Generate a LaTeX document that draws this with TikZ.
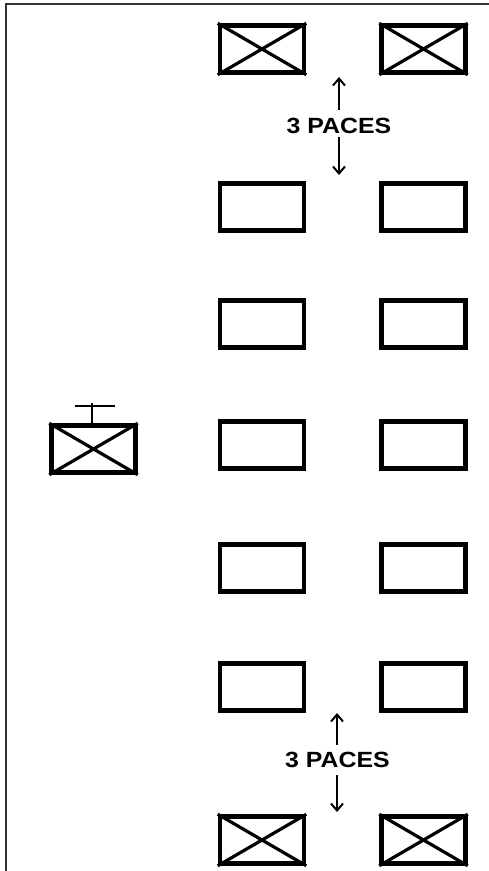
\documentclass[tikz,border=0pt]{standalone}
\usepackage{fontspec}
\setmainfont{Liberation Sans}
\usetikzlibrary{arrows.meta}
\begin{document}
\begin{tikzpicture}[x=1pt,y=-1pt,
  soldier/.style={draw, rectangle, line width=4.5pt, minimum width=84pt, minimum height=47pt, inner sep=0pt},
  xline/.style={line width=3.2pt},
  frameline/.style={line width=2pt, draw=black!80},
  pacelbl/.style={inner sep=0pt, font=\fontsize{22}{24}\selectfont\bfseries, xscale=1.13},
  pacearrow/.style={line width=2pt, -{Straight Barb[length=7pt,width=12pt,line width=2pt]}}
]
\useasboundingbox (0,0) rectangle (489,871);
% frame
\draw[frameline] (489,4) -- (6,4) -- (6,871);
% rows
\foreach \r/\y in {1/49,2/207,3/324,4/445,5/568,6/687,7/840} {
  \node[soldier] (L\r) at (262,\y) {};
  \node[soldier] (R\r) at (423.5,\y) {};
}
\foreach \n in {L1,R1,L7,R7} {
  \draw[xline] (\n.north west) -- (\n.south east);
  \draw[xline] (\n.south west) -- (\n.north east);
}
% leader
\node[soldier] (C) at (93.5,449) {};
\draw[xline] (C.north west) -- (C.south east);
\draw[xline] (C.south west) -- (C.north east);
\coordinate (Ctop) at (92,403);
\coordinate (Cbarl) at (75,406);
\coordinate (Cbarr) at (115,406);
\draw[line width=2pt] (C.north -| Ctop) -- (Ctop);
\draw[line width=2pt] (Cbarl) -- (Cbarr);
% pace labels
\node[pacelbl] (P1) at (339,126) {3 PACES};
\coordinate (P1u) at (339,110);
\coordinate (P1ut) at (339,77);
\coordinate (P1d) at (339,137);
\coordinate (P1dt) at (339,175);
\draw[pacearrow] (P1u) -- (P1ut);
\draw[pacearrow] (P1d) -- (P1dt);
\node[pacelbl] (P2) at (337.5,760) {3 PACES};
\coordinate (P2u) at (337,745);
\coordinate (P2ut) at (337,713);
\coordinate (P2d) at (337,775);
\coordinate (P2dt) at (337,812);
\draw[pacearrow] (P2u) -- (P2ut);
\draw[pacearrow] (P2d) -- (P2dt);
\end{tikzpicture}
\end{document}
